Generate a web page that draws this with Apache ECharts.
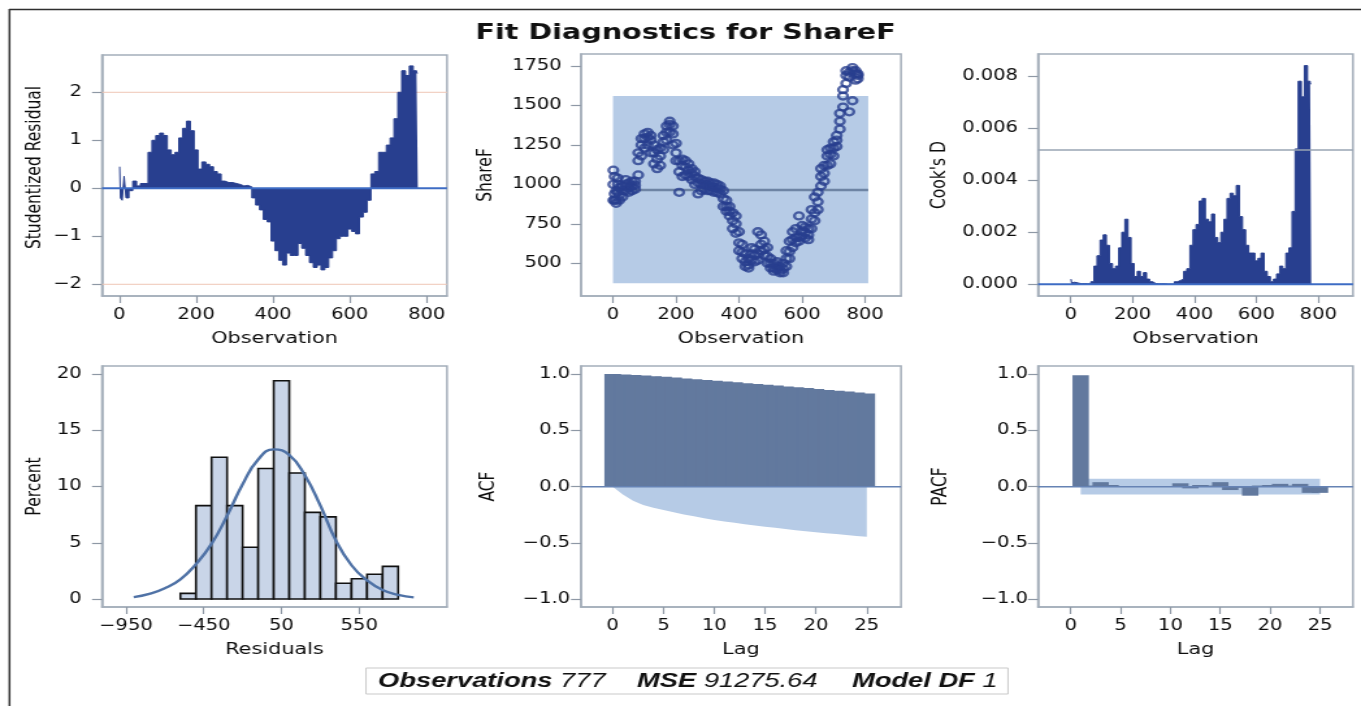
<!DOCTYPE html>
<html>
<head>
<meta charset="utf-8">
<title>Fit Diagnostics for ShareF</title>
<script src="https://cdn.jsdelivr.net/npm/echarts@6/dist/echarts.min.js"></script>
<style>
  html, body { margin: 0; padding: 0; background: #fff; overflow: hidden; }
  #wrap { width: 1361px; height: 706px; overflow: hidden; }
  /* the SAS panel is laid out narrow and shown stretched horizontally */
  #chart { width: 1047px; height: 706px; transform: scaleX(1.29990); transform-origin: 0 0; }
</style>
</head>
<body>
<div id="wrap"><div id="chart"></div></div>
<script>
// ---------- data ----------
// observation numbers (sampled every 10, denser at the start)
const obsIdx = [1,5,10,15,20, 30,40,50,60,70, 80,90,100,110,120, 130,140,150,160,170,
  180,190,200,210,220, 230,240,250,260,270, 280,290,300,310,320, 330,340,350,360,370,
  380,390,400,410,420, 430,440,450,460,470, 480,490,500,510,520, 530,540,550,560,570,
  580,590,600,610,620, 630,640,650,660,670, 680,690,700,710,720, 730,740,750,760,770, 777];

const studResid = [0.45,-0.2,-0.25,0.25,-0.2, -0.05,0.15,0.05,0.1,0.1, 0.75,1.0,1.1,1.15,1.1,
  0.8,0.7,0.75,1.05,1.25, 1.4,1.2,0.8,0.4,0.55, 0.5,0.45,0.35,0.3,0.15, 0.12,0.12,0.1,0.08,0.05,
  0.06,0.03,-0.2,-0.35,-0.45, -0.65,-0.7,-1.1,-1.3,-1.5, -1.6,-1.35,-1.4,-1.4,-1.15,
  -1.25,-1.4,-1.55,-1.65,-1.6, -1.7,-1.65,-1.45,-1.3,-1.05, -1.0,-1.0,-0.85,-0.9,-0.95,
  -0.6,-0.5,-0.25,0.3,0.35, 0.75,0.75,0.9,1.05,1.45, 2.0,2.45,2.35,2.55,2.45, 2.4];

const cooksD = [0.0002,0.00005,0.00008,0.00008,0.00005, 0.00002,0.00003,0.00002,0.00002,0.0001,
  0.0007,0.0011,0.0017,0.0019,0.0015, 0.0008,0.0006,0.0007,0.0014,0.002,
  0.0025,0.0018,0.0008,0.0003,0.0005, 0.0003,0.00045,0.0002,0.0001,0.00003,
  0.00002,0.00002,0.00002,0.00001,0.00001, 0.00001,0.0001,0.00015,0.0002,0.0005,
  0.0006,0.0015,0.0021,0.0023,0.0032, 0.0033,0.0025,0.0024,0.0027,0.0018,
  0.0016,0.002,0.0025,0.0033,0.0035, 0.0034,0.0038,0.0026,0.0021,0.0015,
  0.0012,0.0012,0.0009,0.001,0.0012, 0.0005,0.0003,0.0001,0.0002,0.0004,
  0.0007,0.0006,0.0012,0.0014,0.0028, 0.0052,0.0078,0.0072,0.0084,0.0078, 0.0077];

// ShareF per block: typical, upper and lower points of each block
const shareMid = [1000,940,900,1000,930, 960,1000,980,990,995, 1150,1250,1290,1300,1280,
  1200,1160,1180,1270,1330, 1380,1320,1200,1080,1120, 1110,1090,1070,1050,1010,
  1000,1000,995,990,980, 980,970,910,860,830, 770,750,630,570,510, 490,560,550,560,620,
  590,545,500,470,480, 455,465,530,575,650, 665,665,705,695,680, 780,820,890,1050,1070,
  1180,1190,1230,1280,1400, 1560,1690,1680,1720,1700, 1690];
const shareHigh = [1090,1050,960,1040,980, 990,1030,1010,1020,1020, 1200,1290,1320,1330,1310,
  1250,1220,1230,1310,1370, 1400,1370,1260,1150,1160, 1150,1130,1100,1080,1040,
  1030,1020,1020,1010,1010, 1000,990,960,900,860, 820,800,700,620,560, 530,600,590,700,680,
  640,600,530,500,510, 480,500,580,640,700, 720,800,740,730,720, 840,920,950,1100,1120,
  1220,1230,1270,1310,1450, 1600,1720,1710,1740,1720, 1700];
const shareLow = [900,900,880,950,900, 920,960,950,960,970, 1060,1180,1230,1250,1200,
  1130,1100,1120,1220,1280, 1330,1250,1150,950,1050, 1060,1050,1030,1000,940,
  960,970,960,960,950, 950,940,860,830,800, 720,690,580,530,480, 470,520,510,520,580,
  550,500,470,450,460, 440,440,480,530,600, 630,640,670,660,650, 720,770,840,990,1020,
  1120,1130,1180,1240,1350, 1490,1640,1460,1530,1660, 1670];

const fitMean = 965;
const predLimits = [373, 1560];   // lower / upper prediction limit
const fitSpan = [0, 810];         // observation range of the fit band
const cooksCut = 0.00516;

// residual histogram (bin midpoints, percent) and fitted normal density
const binWidth = 100;
const histMid = [-550,-450,-350,-250,-150,-50,50,150,250,350,450,550,650,750];
const histPct = [0.5,8.3,12.6,8.3,4.6,11.6,19.4,11.2,7.7,7.3,1.4,1.8,2.2,2.9];
const normX = [-900,-800,-700,-600,-500,-400,-300,-200,-100,0,100,200,300,400,500,600,700,800,900];
const normPct = [0.17,0.45,0.95,1.75,3.1,4.9,7.4,10.2,12.4,13.3,12.8,11.0,8.3,5.2,3.0,1.65,0.8,0.36,0.15];

// autocorrelations
const acfLag = [0,1,2,3,4,5,6,7,8,9,10,11,12,13,14,15,16,17,18,19,20,21,22,23,24,25];
const acf = [1.0,0.996,0.991,0.986,0.981,0.975,0.968,0.961,0.954,0.947,0.94,0.933,0.926,
  0.919,0.912,0.905,0.897,0.89,0.882,0.875,0.867,0.859,0.851,0.844,0.836,0.828];
const acfBand = [0,0.07,0.125,0.163,0.188,0.208,0.228,0.246,0.263,0.28,0.296,0.309,0.321,
  0.333,0.344,0.355,0.365,0.375,0.386,0.396,0.405,0.413,0.421,0.429,0.437,0.444];
const pacfLag = [1,2,3,4,5,6,7,8,9,10,11,12,13,14,15,16,17,18,19,20,21,22,23,24,25];
const pacf = [0.99,0.01,0.04,0.015,0.005,0,0,0,0,0.005,0.03,-0.015,0.015,0.01,0.04,
  -0.03,-0.01,-0.08,0.01,0.015,0.025,0.01,0.025,-0.055,-0.055];
const pacfLimit = 0.07;
const lagBarWidth = 1.64;

// tick values
const obsTicks = [0, 200, 400, 600, 800];
const residTicks = [-2, -1, 0, 1, 2];
const shareTicks = [500, 750, 1000, 1250, 1500, 1750];
const cookTicks = [0, 0.002, 0.004, 0.006, 0.008];
const resHistTicks = [-950, -450, 50, 550];
const pctTicks = [0, 5, 10, 15, 20];
const lagTicks = [0, 5, 10, 15, 20, 25];
const corrTicks = [-1, -0.5, 0, 0.5, 1];

// ---------- styling ----------
const SX = 1361 / 1047;
const px = v => v / SX;            // page x -> chart x
const NAVY = '#283f8f';
const FRAME = '#a4aeba';
const TICK = '#8e98a5';
const INK = '#0d0d0d';
const BAND = '#b6cbe6';
const SLATE = '#62799e';
const ZERO = '#3e6cc4';
const FONT = '"DejaVu Sans", Verdana, sans-serif';

const minus = s => String(s).replace('-', '\u2212');
const fmtInt = v => minus(v);
const fmt1 = v => minus(v.toFixed(1));
const fmt3 = v => minus(v.toFixed(3));

// plot frames in page pixels: [left, top, right, bottom]
const frames = [
  [102, 55, 447, 296], [581, 54, 901, 296], [1038, 54, 1353, 296],
  [102, 366, 447, 607], [581, 366, 901, 607], [1038, 366, 1353, 607]
];
const grids = frames.map(f => ({
  left: px(f[0]), top: f[1], width: px(f[2] - f[0]), height: f[3] - f[1],
  show: true, borderColor: FRAME, borderWidth: 1.5, backgroundColor: '#fff',
  containLabel: false, outerBoundsMode: 'none'
}));

function xAx(gi, min, max, ticks, name, fmt) {
  return {
    type: 'value', gridIndex: gi, min, max, position: 'bottom',
    axisLine: { show: true, onZero: false, lineStyle: { color: FRAME, width: 1.5 } },
    axisTick: { show: true, customValues: ticks, length: 7, lineStyle: { color: TICK, width: 1.2 } },
    axisLabel: { customValues: ticks, formatter: fmt, color: INK, fontSize: 15, fontFamily: FONT, margin: 12 },
    splitLine: { show: false },
    name, nameLocation: 'middle', nameGap: 35,
    nameTextStyle: { color: INK, fontSize: 16, fontFamily: FONT }
  };
}
function yAx(gi, min, max, ticks, name, gap, fmt, margin, pad) {
  return {
    type: 'value', gridIndex: gi, min, max, position: 'left',
    axisLine: { show: true, onZero: false, lineStyle: { color: FRAME, width: 1.5 } },
    axisTick: { show: true, customValues: ticks, length: px(10), lineStyle: { color: TICK, width: 1.2 } },
    axisLabel: { customValues: ticks, formatter: fmt, color: INK, fontSize: 15, fontFamily: FONT, margin },
    splitLine: { show: false },
    name, nameLocation: 'middle', nameGap: gap,
    nameTextStyle: { color: INK, fontSize: 15.5, fontFamily: FONT, padding: pad || 0 }
  };
}

const xRanges = [[-45, 853], [-101.6, 914], [-105.7, 912], [-1104, 1114], [-3.12, 28.37], [-3.28, 28.31]];
const yRanges = [[-2.244, 2.777], [293, 1826], [-0.000449, 0.008845], [-0.71, 20.71], [-1.068, 1.071], [-1.068, 1.071]];

const xAxes = [
  xAx(0, xRanges[0][0], xRanges[0][1], obsTicks, 'Observation', fmtInt),
  xAx(1, xRanges[1][0], xRanges[1][1], obsTicks, 'Observation', fmtInt),
  xAx(2, xRanges[2][0], xRanges[2][1], obsTicks, 'Observation', fmtInt),
  xAx(3, xRanges[3][0], xRanges[3][1], resHistTicks, 'Residuals', fmtInt),
  xAx(4, xRanges[4][0], xRanges[4][1], lagTicks, 'Lag', fmtInt),
  xAx(5, xRanges[5][0], xRanges[5][1], lagTicks, 'Lag', fmtInt)
];
const yAxes = [
  yAx(0, yRanges[0][0], yRanges[0][1], residTicks, 'Studentized Residual', 43.5, fmtInt, px(20), [0, 0, 0, 16]),
  yAx(1, yRanges[1][0], yRanges[1][1], shareTicks, 'ShareF', 64.5, fmtInt, px(19.3)),
  yAx(2, yRanges[2][0], yRanges[2][1], cookTicks, "Cook's D", 67.6, fmt3, px(20)),
  yAx(3, yRanges[3][0], yRanges[3][1], pctTicks, 'Percent', 43.5, fmtInt, px(20.3)),
  yAx(4, yRanges[4][0], yRanges[4][1], corrTicks, 'ACF', 63.3, fmt1, px(11)),
  yAx(5, yRanges[5][0], yRanges[5][1], corrTicks, 'PACF', 66.3, fmt1, px(10))
];

// ---------- series helpers ----------
function hline(gi, y, x0, x1, color, width, z) {
  return {
    type: 'line', xAxisIndex: gi, yAxisIndex: gi, data: [[x0, y], [x1, y]],
    symbol: 'none', silent: true, z, lineStyle: { color, width }, clip: true
  };
}
function stepArea(gi, values, z) {
  return {
    type: 'line', xAxisIndex: gi, yAxisIndex: gi, step: 'middle', symbol: 'none', z,
    data: obsIdx.map((o, i) => [o, values[i]]),
    lineStyle: { color: NAVY, width: 1 }, areaStyle: { color: NAVY, opacity: 1 }
  };
}
// rectangular bars centred on x, spanning `span` x-units, drawn through the axis scales
function barSeries(gi, xs, ys, span, fill, stroke, lw, z) {
  return {
    type: 'custom', xAxisIndex: gi, yAxisIndex: gi, z, clip: true,
    data: xs.map((x, i) => [x, ys[i]]),
    renderItem: function (params, api) {
      const x = api.value(0), y = api.value(1);
      const a = api.coord([x - span / 2, y]);
      const b = api.coord([x + span / 2, 0]);
      return {
        type: 'rect',
        shape: { x: a[0], y: Math.min(a[1], b[1]), width: b[0] - a[0], height: Math.abs(b[1] - a[1]) },
        style: { fill, stroke: stroke || null, lineWidth: lw || 0 }
      };
    }
  };
}
function boxSeries(gi, x0, x1, y0, y1, fill, z) {
  return {
    type: 'custom', xAxisIndex: gi, yAxisIndex: gi, z, clip: true, silent: true,
    data: [[x0, x1, y0, y1]],
    renderItem: function (params, api) {
      const a = api.coord([api.value(0), api.value(3)]);
      const b = api.coord([api.value(1), api.value(2)]);
      return { type: 'rect', shape: { x: a[0], y: a[1], width: b[0] - a[0], height: b[1] - a[1] }, style: { fill } };
    }
  };
}

const series = [
  // 1. studentized residuals
  hline(0, 2, xRanges[0][0], xRanges[0][1], '#efc6b6', 1, 1),
  hline(0, -2, xRanges[0][0], xRanges[0][1], '#efc6b6', 1, 1),
  stepArea(0, studResid, 2),
  hline(0, 0, xRanges[0][0], xRanges[0][1], ZERO, 2, 3),

  // 2. ShareF by observation with fit and prediction band
  boxSeries(1, fitSpan[0], fitSpan[1], predLimits[0], predLimits[1], BAND, 1),
  hline(1, fitMean, fitSpan[0], fitSpan[1], '#6e84a4', 2.5, 2),
  {
    type: 'scatter', xAxisIndex: 1, yAxisIndex: 1, z: 3, symbol: 'circle', symbolSize: 7,
    data: obsIdx.map((o, i) => [o, shareHigh[i]])
      .concat(obsIdx.map((o, i) => [o, shareLow[i]]))
      .concat(obsIdx.map((o, i) => [o, shareMid[i]])),
    itemStyle: { color: 'rgba(0,0,0,0)', borderColor: NAVY, borderWidth: 2.3 }
  },

  // 3. Cook's D
  stepArea(2, cooksD, 2),
  hline(2, cooksCut, xRanges[2][0], xRanges[2][1], '#98a4b3', 1.5, 3),
  hline(2, 0, xRanges[2][0], xRanges[2][1], ZERO, 2, 3),

  // 4. residual histogram with normal curve
  barSeries(3, histMid, histPct, binWidth, '#c9d5e8', '#111', 1.6, 2),
  {
    type: 'line', xAxisIndex: 3, yAxisIndex: 3, z: 3, smooth: true, symbol: 'none',
    data: normX.map((x, i) => [x, normPct[i]]),
    lineStyle: { color: '#4f72a6', width: 2.4 }
  },

  // 5. ACF with confidence band
  {
    type: 'line', xAxisIndex: 4, yAxisIndex: 4, z: 1, symbol: 'none',
    data: acfLag.map((l, i) => [l, -acfBand[i]]),
    lineStyle: { width: 0 }, areaStyle: { color: BAND, opacity: 1 }
  },
  {
    type: 'line', xAxisIndex: 4, yAxisIndex: 4, z: 1, symbol: 'none',
    data: acfLag.map((l, i) => [l, acfBand[i]]),
    lineStyle: { width: 0 }, areaStyle: { color: BAND, opacity: 1 }
  },
  barSeries(4, acfLag, acf, lagBarWidth, SLATE, null, 0, 2),
  hline(4, 0, xRanges[4][0], xRanges[4][1], '#6683b4', 1.5, 3),

  // 6. PACF with confidence band
  boxSeries(5, pacfLag[0], pacfLag[pacfLag.length - 1], -pacfLimit, pacfLimit, BAND, 1),
  barSeries(5, pacfLag, pacf, lagBarWidth, SLATE, null, 0, 2),
  hline(5, 0, xRanges[5][0], xRanges[5][1], '#6683b4', 1.5, 3)
];

// ---------- title, page frame and statistics box ----------
const statFont = 21;
const statRich = {
  b: { fontFamily: '"Liberation Sans", Arial, sans-serif', fontWeight: 'bold', fontStyle: 'italic', fontSize: statFont, fill: '#111', color: '#111' },
  n: { fontFamily: '"Liberation Sans", Arial, sans-serif', fontStyle: 'italic', fontSize: statFont, fill: '#111', color: '#111' }
};
function statText(xPage, text) {
  return {
    type: 'text', x: px(xPage), y: 681, z: 101,
    style: {
      text, rich: statRich, fill: '#111',
      font: 'italic ' + statFont + 'px "Liberation Sans", Arial, sans-serif',
      align: 'left', verticalAlign: 'middle', textAlign: 'left', textVerticalAlign: 'middle'
    }
  };
}

const graphic = [
  { type: 'line', z: 100, shape: { x1: px(9), y1: 9.5, x2: 1047, y2: 9.5 }, style: { stroke: '#2e2e2e', lineWidth: 1.5 } },
  { type: 'line', z: 100, shape: { x1: px(9.5), y1: 9, x2: px(9.5), y2: 706 }, style: { stroke: '#2e2e2e', lineWidth: 1.5 } },
  {
    type: 'text', x: px(685.5), y: 33, z: 100,
    style: {
      text: 'Fit Diagnostics for ShareF', font: 'bold 22px "DejaVu Sans", Verdana, sans-serif',
      fill: '#111', align: 'center', verticalAlign: 'middle', textAlign: 'center', textVerticalAlign: 'middle'
    }
  },
  {
    type: 'rect', z: 100,
    shape: { x: px(366), y: 668, width: px(1008 - 366), height: 26 },
    style: { fill: '#fff', stroke: '#c9c9c9', lineWidth: 1 }
  },
  statText(378, '{b|Observations} {n|777}'),
  statText(637, '{b|MSE} {n|91275.64}'),
  statText(852, '{b|Model DF} {n|1}')
];

const chart = echarts.init(document.getElementById('chart'), null, { renderer: 'canvas', width: 1047, height: 706 });
chart.setOption({
  animation: false,
  backgroundColor: '#fff',
  grid: grids,
  xAxis: xAxes,
  yAxis: yAxes,
  series,
  graphic
});
</script>
</body>
</html>
